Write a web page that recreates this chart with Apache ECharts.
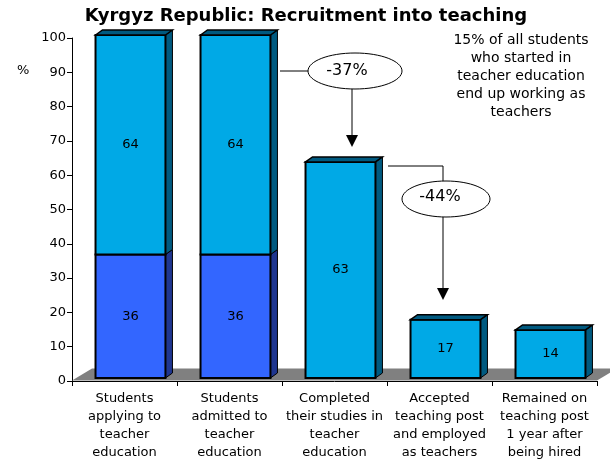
<!DOCTYPE html>
<html>
<head>
<meta charset="utf-8">
<script src="https://cdn.jsdelivr.net/npm/echarts@6/dist/echarts.min.js"></script>
<style>
  html, body { margin: 0; padding: 0; background: #fff; }
  #chart { width: 610px; height: 462px; }
</style>
</head>
<body>
<div id="chart"></div>
<script>
// data
const categories = [
    'Students\napplying to\nteacher\neducation',
    'Students\nadmitted to\nteacher\neducation',
    'Completed\ntheir studies in\nteacher\neducation',
    'Accepted\nteaching post\nand employed\nas teachers',
    'Remained on\nteaching post\n1 year after\nbeing hired'
];
const lowerValues = [36, 36, 0, 0, 0];   // dark blue part
const upperValues = [64, 64, 63, 17, 14]; // light blue part
const yMin = 0, yMax = 100, yStep = 10;

const FONT = 'DejaVu Sans';
const chart = echarts.init(document.getElementById('chart'));

// 3d looking bars
function renderBar(params, api) {
    const idx = api.value(0);
    const lo = api.value(1);
    const up = api.value(2);
    const band = api.size([1, 0])[0];
    const cx = api.coord([idx, 0])[0];
    const left = cx - band * 0.276;
    const right = cx + band * 0.39;
    const yOf = v => api.coord([idx, v])[1] - 3;
    const dx = 7, dy = -5;
    const kids = [];
    const segs = [];
    if (lo > 0) segs.push([0, lo, '#3366ff', '#1f3690']);
    segs.push([lo, lo + up, '#00a9e6', '#005a80']);
    segs.forEach(s => {
        const yb = yOf(s[0]), yt = yOf(s[1]);
        kids.push({
            type: 'polygon',
            shape: { points: [[right, yt], [right + dx, yt + dy], [right + dx, yb + dy], [right, yb]] },
            style: { fill: s[3], stroke: '#000', lineWidth: 1 }
        });
        kids.push({
            type: 'rect',
            shape: { x: left, y: yt, width: right - left, height: yb - yt },
            style: { fill: s[2], stroke: '#000', lineWidth: 2 }
        });
        kids.push({
            type: 'text',
            style: {
                x: (left + right) / 2, y: (yt + yb) / 2,
                text: String(s[1] - s[0]),
                font: '13px "' + FONT + '"', fill: '#000',
                align: 'center', verticalAlign: 'middle'
            }
        });
    });
    const ytop = yOf(lo + up);
    kids.push({
        type: 'polygon',
        shape: { points: [[left, ytop], [left + dx, ytop + dy], [right + dx, ytop + dy], [right, ytop]] },
        style: { fill: '#005a80', stroke: '#000', lineWidth: 1.5 }
    });
    return { type: 'group', children: kids };
}

function renderFloor(params, api) {
    const cs = params.coordSys;
    const y0 = api.coord([0, 0])[1] - 0.5;
    const x0 = cs.x, x1 = cs.x + cs.width;
    return {
        type: 'polygon',
        shape: { points: [[x0, y0], [x1, y0], [x1 + 20, y0 - 12], [x0 + 20, y0 - 12]] },
        style: { fill: '#808080' }
    };
}

function arrowHead(x, y) {
    return {
        type: 'polygon',
        shape: { points: [[x - 6, y - 12], [x + 6, y - 12], [x, y]] },
        style: { fill: '#000' }
    };
}

chart.setOption({
    backgroundColor: '#fff',
    animation: false,
    title: {
        text: 'Kyrgyz Republic: Recruitment into teaching',
        left: 301, top: 2, textAlign: 'center',
        textStyle: { fontFamily: FONT, fontSize: 18, fontWeight: 'bold', color: '#000' }
    },
    grid: { left: 72, right: 13, top: 38, bottom: 81 },
    xAxis: {
        type: 'category',
        data: categories,
        axisLine: { lineStyle: { color: '#000', width: 1 } },
        axisTick: { show: true, length: 5, lineStyle: { color: '#000' } },
        axisLabel: {
            interval: 0, margin: 9, color: '#000',
            fontFamily: FONT, fontSize: 13, lineHeight: 17.8
        },
        splitLine: { show: false }
    },
    yAxis: {
        type: 'value',
        min: yMin, max: yMax, interval: yStep,
        axisLine: { show: true, lineStyle: { color: '#000', width: 1 } },
        axisTick: { show: true, length: 5, lineStyle: { color: '#000' } },
        axisLabel: { margin: 6, color: '#000', fontFamily: FONT, fontSize: 13 },
        splitLine: { show: false }
    },
    series: [
        {
            type: 'custom',
            z: 1,
            renderItem: renderFloor,
            data: [[0, 0]],
            silent: true
        },
        {
            type: 'custom',
            z: 3,
            renderItem: renderBar,
            encode: { x: 0, y: [1, 2] },
            data: categories.map((c, i) => [i, lowerValues[i], upperValues[i]])
        }
    ],
    graphic: [
        { type: 'text', left: 17, top: 64,
          style: { text: '%', font: '13px "' + FONT + '"', fill: '#000' } },
        { type: 'text', x: 521, y: 31,
          style: {
              text: '15% of all students\nwho started in\nteacher education\nend up working as\nteachers',
              font: '14px "' + FONT + '"', fill: '#000', align: 'center', lineHeight: 18
          } },
        // -37% callout
        { type: 'line', shape: { x1: 280, y1: 71, x2: 308, y2: 71 }, style: { stroke: '#000', lineWidth: 1 } },
        { type: 'ellipse', shape: { cx: 355, cy: 71, rx: 47, ry: 18 }, style: { fill: '#fff', stroke: '#000', lineWidth: 1 } },
        { type: 'text', x: 347, y: 71,
          style: { text: '-37%', font: '16px "' + FONT + '"', fill: '#000', align: 'center', verticalAlign: 'middle' } },
        { type: 'line', shape: { x1: 352, y1: 89, x2: 352, y2: 137 }, style: { stroke: '#000', lineWidth: 1 } },
        arrowHead(352, 147),
        // -44% callout
        { type: 'polyline', shape: { points: [[388, 166], [443, 166], [443, 181]] }, style: { stroke: '#000', lineWidth: 1, fill: null } },
        { type: 'ellipse', shape: { cx: 446, cy: 199, rx: 44, ry: 18 }, style: { fill: '#fff', stroke: '#000', lineWidth: 1 } },
        { type: 'text', x: 440, y: 197,
          style: { text: '-44%', font: '16px "' + FONT + '"', fill: '#000', align: 'center', verticalAlign: 'middle' } },
        { type: 'line', shape: { x1: 443, y1: 217, x2: 443, y2: 290 }, style: { stroke: '#000', lineWidth: 1 } },
        arrowHead(443, 300)
    ]
});
</script>
</body>
</html>
